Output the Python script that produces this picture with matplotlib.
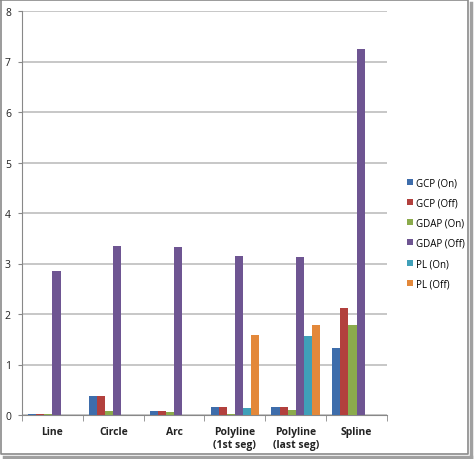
import numpy as np
import matplotlib
matplotlib.use("Agg")
import matplotlib.pyplot as plt
from matplotlib.lines import Line2D

# data
categories = ["Line", "Circle", "Arc", "Polyline\n(1st seg)", "Polyline\n(last seg)", "Spline"]
series_names = ["GCP (On)", "GCP (Off)", "GDAP (On)", "GDAP (Off)", "PL (On)", "PL (Off)"]
gcp_on = [0.02, 0.37, 0.085, 0.165, 0.165, 1.33]
gcp_off = [0.02, 0.37, 0.085, 0.165, 0.165, 2.12]
gdap_on = [0.02, 0.07, 0.05, 0.01, 0.105, 1.78]
gdap_off = [2.86, 3.35, 3.33, 3.15, 3.13, 7.24]
pl_on = [0, 0, 0, 0.13, 1.56, 0]
pl_off = [0, 0, 0, 1.59, 1.78, 0]
colors = ["#3e6dab", "#b2403d", "#8bab4c", "#6e5592", "#3fa0b9", "#e3883a"]

plt.rcParams["font.family"] = ["Open Sans", "DejaVu Sans"]

W, H = 474, 460
fig = plt.figure(figsize=(W / 100, H / 100), dpi=100)
ax = fig.add_axes([22 / W, 1 - 416 / H, (387 - 22) / W, (416 - 12) / H])

all_series = [gcp_on, gcp_off, gdap_on, gdap_off, pl_on, pl_off]
x = np.arange(len(categories))
w = 1 / 7.5
for i, vals in enumerate(all_series):
    ax.bar(x - 2.5 * w + i * w, vals, width=w, color=colors[i], label=series_names[i],
           edgecolor="none", zorder=3)

ax.set_xlim(-0.5, len(categories) - 0.5)
ax.set_ylim(0, 8)
ax.set_yticks(range(0, 9))
ax.yaxis.grid(True, color="#bdbdbd", linewidth=1.2, zorder=0)
ax.set_xticks(x)
ax.set_xticklabels(categories, fontsize=7.5, fontweight="bold", color="#222222")
ax.set_xticks(np.arange(-0.5, len(categories)), minor=True)
ax.tick_params(axis="x", which="major", length=0, pad=8)
ax.tick_params(axis="x", which="minor", length=4, color="#888888")
ax.tick_params(axis="y", length=3, color="#888888", labelsize=7.5, pad=5, labelcolor="#222222")
for s in ["top", "right"]:
    ax.spines[s].set_visible(False)
for s in ["left", "bottom"]:
    ax.spines[s].set_color("#888888")

ax.legend(loc="center left", bbox_to_anchor=(1.03, 0.45), frameon=False, fontsize=7,
          handlelength=0.6, handleheight=0.6, handletextpad=0.4, labelspacing=0.95)


def px_line(xs, ys, color, lw):
    fig.lines.append(Line2D([v / W for v in xs], [1 - v / H for v in ys],
                            transform=fig.transFigure, color=color, linewidth=lw))


# picture frame with drop shadow
px_line([1, 468, 468, 1, 1], [1, 1, 455, 455, 1], "#8a8a8a", 1.2)
px_line([470.5, 470.5], [4, 457.5], "#a0a0a0", 2.5)
px_line([4, 470.5], [457.5, 457.5], "#a0a0a0", 2.5)

fig.savefig("out.png", dpi=100)
